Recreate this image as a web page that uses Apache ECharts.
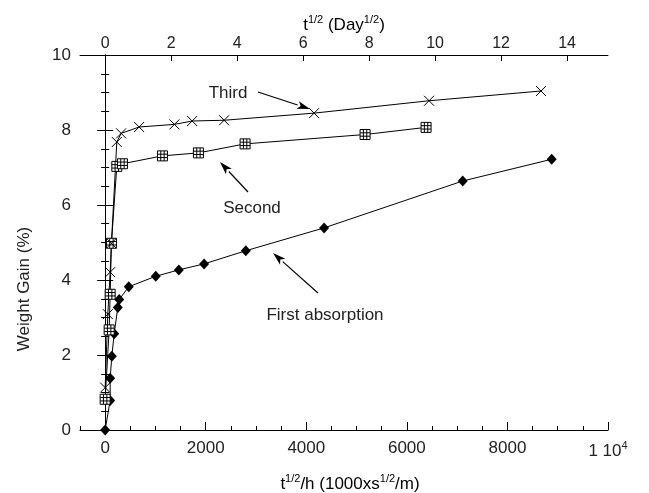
<!DOCTYPE html>
<html lang="en">
<head>
    <meta charset="UTF-8">
    <title>Weight Gain</title>
    <script src="https://cdn.jsdelivr.net/npm/echarts@6/dist/echarts.min.js"></script>
    <style type="text/css">
        body{
            margin: 0px;
            padding: 0px;
            background: #fff;
        }
        #chart{
            width: 649px;
            height: 493px;
        }
    </style>
</head>
<body>
    <div id="chart"></div>
<script type="text/javascript">
    // tick labels
    var xTicks = [0, 2000, 4000, 6000, 8000, 10000];
    var topTicks = [0, 2, 4, 6, 8, 10, 12, 14];
    var yTicks = [0, 2, 4, 6, 8, 10];

    // [x, weight gain %]
    var firstX = [0, 100, 100, 133, 180, 252, 280, 470, 1007, 1465, 1968, 2797, 4354, 7111, 8880];
    var firstY = [0, 0.79, 1.38, 1.97, 2.57, 3.27, 3.48, 3.82, 4.10, 4.27, 4.43, 4.78, 5.39, 6.64, 7.22];
    var secondX = [0, 80, 100, 125, 232, 344, 1140, 1855, 2783, 5169, 6382];
    var secondY = [0.82, 2.67, 3.62, 4.98, 7.03, 7.10, 7.31, 7.39, 7.63, 7.88, 8.07];
    var thirdX = [0, 53, 100, 125, 232, 318, 676, 1378, 1730, 2366, 4155, 6441, 8668];
    var thirdY = [1.13, 3.09, 4.21, 4.98, 7.68, 7.91, 8.08, 8.15, 8.24, 8.26, 8.45, 8.78, 9.04];

    function pairs(xs, ys) {
        var out = [];
        for (var i = 0; i < xs.length; i++) {
            out.push([xs[i], ys[i]]);
        }
        return out;
    }

    var font = '"Liberation Sans", Arial, Helvetica, sans-serif';

    // arrow drawn as a line plus a filled head
    function arrow(x1, y1, x2, y2) {
        var a = Math.atan2(y2 - y1, x2 - x1);
        var len = 13, w = 4;
        var bx = x2 - len * Math.cos(a), by = y2 - len * Math.sin(a);
        var px = -Math.sin(a) * w, py = Math.cos(a) * w;
        return [{
            type: 'line',
            shape: {x1: x1, y1: y1, x2: bx, y2: by},
            style: {stroke: '#000', lineWidth: 1.2}
        }, {
            type: 'polygon',
            shape: {points: [[x2, y2], [bx + px, by + py], [bx + (x2 - bx) * 0.25, by + (y2 - by) * 0.25], [bx - px, by - py]]},
            style: {fill: '#000'}
        }];
    }

    var supRich = {
        n: {fontFamily: font, fontSize: 17, color: '#222', verticalAlign: 'bottom'},
        s: {fontFamily: font, fontSize: 11, color: '#222', verticalAlign: 'bottom', padding: [0, 0, 9, 0]}
    };

    var graphics = [
        {type: 'text', x: 350, y: 483, style: {text: '{n|t}{s|1/2}{n|/h (1000xs}{s|1/2}{n|/m)}', rich: supRich, align: 'center', verticalAlign: 'middle'}},
        {type: 'text', x: 344, y: 24, style: {text: '{n|t}{s|1/2}{n| (Day}{s|1/2}{n|)}', rich: supRich, align: 'center', verticalAlign: 'middle'}},
        {type: 'text', x: 24, y: 289, rotation: Math.PI / 2, style: {text: 'Weight Gain (%)', font: '17px ' + font, fill: '#222', align: 'center', verticalAlign: 'middle'}},
        {type: 'text', x: 228, y: 93, style: {text: 'Third', font: '17px ' + font, fill: '#222', align: 'center', verticalAlign: 'middle'}},
        {type: 'text', x: 252, y: 208, style: {text: 'Second', font: '17px ' + font, fill: '#222', align: 'center', verticalAlign: 'middle'}},
        {type: 'text', x: 325, y: 315, style: {text: 'First absorption', font: '17px ' + font, fill: '#222', align: 'center', verticalAlign: 'middle'}}
    ];
    graphics = graphics.concat(arrow(258, 92, 310, 109), arrow(248, 192, 220, 162), arrow(318, 293, 273, 253));

    var squareSym = 'path://M0,0H10V10H0Z M3.3,0V10 M6.7,0V10 M0,3.3H10 M0,6.7H10';
    var crossSym = 'path://M0,0L10,10M10,0L0,10';

    var option = {
        backgroundColor: '#fff',
        animation: false,
        grid: {left: 80, right: 41, top: 55, bottom: 63},
        xAxis: [{
            type: 'value', position: 'bottom', min: -500, max: 10000, interval: 500,
            axisLine: {lineStyle: {color: '#000', width: 1}},
            axisTick: {inside: true, length: 4, lineStyle: {color: '#000'}},
            axisLabel: {customValues: xTicks, margin: 10, fontFamily: font, fontSize: 17, color: '#222',
                formatter: function (v) { return v === 10000 ? '{n|1 10}{s|4}' : String(v); },
                rich: supRich},
            splitLine: {show: false}
        }, {
            type: 'value', position: 'bottom', min: -500, max: 10000,
            axisLine: {show: false},
            axisTick: {inside: true, length: 8, customValues: xTicks, lineStyle: {color: '#000'}},
            axisLabel: {show: false},
            splitLine: {show: false}
        }, {
            type: 'value', position: 'top', min: -0.76, max: 15.24,
            axisLine: {lineStyle: {color: '#000', width: 1}},
            axisTick: {inside: true, length: 6, customValues: topTicks, lineStyle: {color: '#000'}},
            axisLabel: {customValues: topTicks, margin: 3, fontFamily: font, fontSize: 16, color: '#222'},
            splitLine: {show: false}
        }],
        yAxis: [{
            type: 'value', position: 'left', min: 0, max: 10, interval: 2,
            axisLine: {show: true, lineStyle: {color: '#000', width: 1}},
            axisTick: {inside: true, length: 8, lineStyle: {color: '#000'}},
            minorTick: {show: true, splitNumber: 4, length: 4, lineStyle: {color: '#000'}},
            axisLabel: {customValues: yTicks, margin: 9, fontFamily: font, fontSize: 17, color: '#222'},
            splitLine: {show: false}
        }, {
            type: 'value', position: 'right', min: 0, max: 10, interval: 2,
            axisLine: {show: true, lineStyle: {color: '#000', width: 1}},
            axisTick: {inside: true, length: 8, lineStyle: {color: '#000'}},
            minorTick: {show: true, splitNumber: 4, length: 4, lineStyle: {color: '#000'}},
            axisLabel: {show: false},
            splitLine: {show: false}
        }],
        series: [{
            name: 'First absorption', type: 'line', xAxisIndex: 0, yAxisIndex: 0,
            data: pairs(firstX, firstY),
            symbol: 'diamond', symbolSize: [10, 11],
            itemStyle: {color: '#000'},
            lineStyle: {color: '#000', width: 1}
        }, {
            name: 'Second', type: 'line', xAxisIndex: 0, yAxisIndex: 0,
            data: pairs(secondX, secondY),
            symbol: squareSym, symbolSize: 10, symbolKeepAspect: true,
            itemStyle: {color: '#fff', borderColor: '#000', borderWidth: 1},
            lineStyle: {color: '#000', width: 1}
        }, {
            name: 'Third', type: 'line', xAxisIndex: 0, yAxisIndex: 0,
            data: pairs(thirdX, thirdY),
            symbol: crossSym, symbolSize: 10,
            itemStyle: {color: 'none', borderColor: '#000', borderWidth: 1},
            lineStyle: {color: '#000', width: 1}
        }],
        graphic: graphics
    };

    var myChart = echarts.init(document.getElementById('chart'));
    myChart.setOption(option);
</script>
</body>
</html>
